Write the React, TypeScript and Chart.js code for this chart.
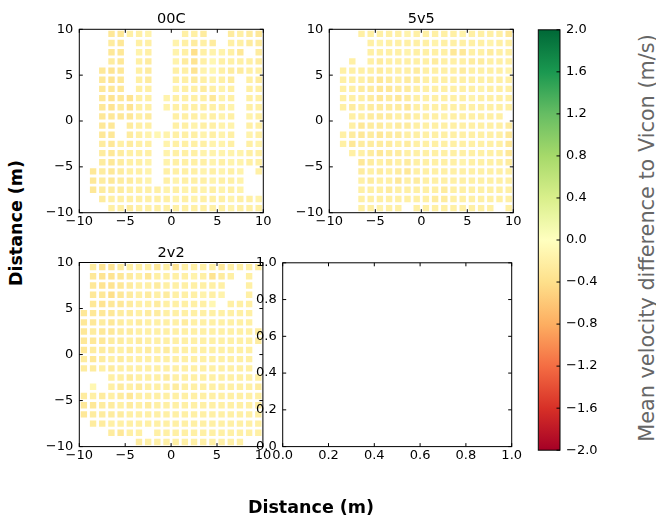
import React, { useEffect, useRef } from 'react';
import { Chart, registerables } from 'chart.js';

Chart.register(...registerables);
Chart.defaults.font.family = "'DejaVu Sans', sans-serif";

const _ = null;

// grid cell edges (m)
const cellEdgesX = [-10, -9, -8, -7, -6, -5, -4, -3, -2, -1, 0, 1, 2, 3, 4, 5, 6, 7, 8, 9, 10];
const cellEdgesY = [10, 9, 8, 7, 6, 5, 4, 3, 2, 1, 0, -1, -2, -3, -4, -5, -6, -7, -8, -9, -10];

const distanceTicks = [-10, -5, 0, 5, 10];
const unitTicks = [0, 0.2, 0.4, 0.6, 0.8, 1.0];
const colorbarTicks = [-2.0, -1.6, -1.2, -0.8, -0.4, 0.0, 0.4, 0.8, 1.2, 1.6, 2.0];
const colorRange = [-2, 2];
const rdYlGn = ['#a50026', '#d73027', '#f46d43', '#fdae61', '#fee08b', '#ffffbf', '#d9ef8b', '#a6d96a', '#66bd63', '#1a9850', '#006837'];

const panelTitles = ['00C', '5v5', '2v2'];
const axisLabel = 'Distance (m)';
const colorbarLabel = 'Mean velocity difference to Vicon (m/s)';

// mean velocity difference per cell (rows top -> bottom, cols left -> right)
const grid00C = [
  [_, _, _, -.3, -.3, -.2, -.2, -.15, _, _, _, -.2, -.2, -.25, _, _, -.25, -.2, -.25, -.3],
  [_, _, _, -.25, -.3, _, -.2, -.2, _, _, -.15, -.2, -.25, -.2, -.25, _, -.2, -.2, -.25, -.25],
  [_, _, _, -.3, -.3, _, -.15, -.2, _, _, -.15, -.2, -.4, -.2, -.15, -.15, -.2, -.3, _, -.25],
  [_, _, _, -.25, -.3, _, -.2, -.25, _, _, -.15, -.25, -.35, -.2, -.1, -.2, -.2, -.2, -.2, -.25],
  [_, _, -.3, -.35, -.3, _, -.2, -.25, _, _, -.2, -.2, -.35, -.15, -.1, -.2, -.25, -.25, -.2, -.2],
  [_, _, -.3, -.35, -.3, _, -.2, -.25, _, _, -.2, -.2, -.25, -.2, -.15, -.2, -.25, _, -.2, -.25],
  [_, _, -.3, -.3, -.3, _, -.2, -.2, _, _, -.15, -.2, -.2, -.25, -.2, -.15, -.2, _, -.2, -.2],
  [_, _, -.3, -.35, -.3, -.35, -.2, -.2, _, -.15, -.2, -.2, -.2, -.2, -.3, -.15, -.2, _, -.2, -.2],
  [_, _, -.3, -.35, -.25, -.35, -.2, -.2, _, -.15, -.2, -.2, -.2, -.2, -.2, -.2, -.15, _, -.2, -.2],
  [_, _, -.3, -.3, -.3, -.3, -.2, -.25, _, _, -.2, -.2, -.2, -.15, -.2, -.15, -.2, _, -.15, -.2],
  [_, _, -.3, -.3, _, -.25, -.2, -.2, _, _, -.2, -.2, -.15, -.2, -.2, -.15, -.15, _, -.2, -.2],
  [_, _, -.3, -.3, _, -.25, -.2, -.15, -.1, -.15, -.2, -.2, -.2, -.15, -.2, -.15, -.2, _, -.15, -.2],
  [_, _, -.25, -.3, -.2, -.25, -.2, -.2, _, -.15, -.2, -.2, -.2, -.2, -.15, -.15, -.2, _, -.2, -.15],
  [_, _, -.25, -.3, -.25, -.2, -.2, -.2, _, -.15, -.2, -.2, -.2, -.15, -.15, -.15, -.15, -.15, -.2, -.2],
  [_, _, -.25, -.3, -.25, -.2, -.2, -.15, _, -.15, -.2, -.2, -.2, -.2, -.15, -.2, -.15, -.15, -.2, -.2],
  [_, -.3, -.25, -.3, -.25, -.2, -.2, -.15, _, -.2, -.2, -.2, -.2, -.15, -.2, -.15, -.2, -.15, _, -.2],
  [_, -.3, -.25, -.3, -.25, -.25, -.2, -.15, _, -.2, -.15, -.2, -.2, -.2, -.15, -.2, -.2, -.15, _, _],
  [_, -.3, -.25, -.25, -.25, -.2, -.2, -.2, -.2, -.15, -.2, -.15, -.2, -.15, -.2, -.15, -.2, -.15, _, _],
  [_, _, -.25, -.2, -.2, -.2, -.2, -.2, -.2, -.2, -.15, -.2, -.15, -.2, -.2, -.2, -.15, -.2, -.2, -.15],
  [_, _, _, -.2, -.2, -.25, -.2, -.2, -.2, -.2, -.2, -.2, -.2, -.2, -.2, -.2, -.15, -.2, -.2, -.2],
];

const grid5v5 = [
  [_, _, _, -.2, -.2, -.2, -.2, -.2, -.15, -.2, -.2, -.2, -.2, -.2, -.15, -.2, -.2, -.2, -.2, -.3],
  [_, _, _, _, -.2, -.15, -.2, -.2, -.2, -.2, -.2, -.15, -.2, -.2, -.2, -.2, -.2, -.15, -.2, -.2],
  [_, _, _, _, -.2, -.2, -.2, -.2, -.15, -.2, -.2, -.2, -.2, -.3, -.3, -.2, -.2, -.25, -.2, -.2],
  [_, _, -.2, _, -.2, -.25, -.2, -.2, -.2, -.2, -.2, -.25, -.2, -.2, -.2, -.25, -.25, -.2, -.2, -.2],
  [_, -.2, -.2, -.2, -.2, -.25, -.2, -.2, -.2, -.25, -.2, -.2, -.2, -.2, -.25, -.2, -.2, -.2, -.2, -.15],
  [_, -.2, -.2, -.2, -.25, -.3, -.25, -.2, -.25, -.25, -.2, -.2, -.2, -.2, -.2, -.2, -.2, -.2, -.2, -.2],
  [_, -.2, -.2, -.25, -.25, -.3, -.3, -.25, -.25, -.2, -.2, -.2, -.2, -.2, -.2, -.2, -.15, -.2, -.2, -.2],
  [_, -.2, -.2, -.2, -.25, -.3, -.25, -.3, -.25, -.2, -.2, -.2, -.2, -.2, -.2, -.15, -.2, -.2, -.2, -.2],
  [_, -.2, -.25, -.2, -.25, -.25, -.25, -.25, -.3, -.2, -.2, -.2, -.2, -.2, -.2, -.2, -.2, -.2, -.2, -.2],
  [_, _, -.2, -.2, -.25, -.25, -.25, -.2, -.25, -.2, -.2, -.2, -.15, -.2, -.2, -.2, -.2, -.2, -.2, _],
  [_, _, -.2, -.3, -.25, -.25, -.2, -.25, -.25, -.2, -.2, -.2, -.2, -.2, -.2, -.2, -.2, -.2, -.2, -.25],
  [_, -.2, -.25, -.3, -.25, -.3, -.25, -.25, -.2, -.2, -.2, -.2, -.2, -.2, -.2, -.2, -.2, -.2, -.2, -.3],
  [_, -.2, -.3, -.25, -.25, -.25, -.25, -.2, -.25, -.2, -.2, -.2, -.2, -.2, -.2, -.2, -.2, -.2, -.2, -.3],
  [_, _, -.2, -.2, -.25, -.3, -.25, -.25, -.2, -.2, -.2, -.2, -.2, -.2, -.2, -.2, -.2, -.2, -.2, -.3],
  [_, _, _, -.3, -.25, -.2, -.25, -.2, -.25, -.2, -.2, -.2, -.2, -.2, -.15, -.2, -.2, -.2, -.2, -.25],
  [_, _, _, -.25, -.2, -.25, -.2, -.25, -.3, -.2, -.2, -.2, -.2, -.2, -.2, -.2, -.2, -.2, -.2, -.2],
  [_, _, _, -.2, -.25, -.2, -.2, -.3, -.2, -.25, -.2, -.2, -.2, -.2, -.2, -.2, -.2, -.2, -.2, -.2],
  [_, _, _, -.2, -.2, -.2, -.25, -.2, -.2, -.2, -.2, -.2, -.25, -.2, -.2, -.2, -.2, -.2, -.2, -.2],
  [_, _, _, -.2, -.2, -.2, -.2, -.2, -.2, -.2, -.2, -.25, -.25, -.2, -.2, -.2, -.2, -.2, -.2, -.2],
  [_, _, _, -.2, -.2, -.15, -.2, -.2, _, -.2, -.2, -.2, -.2, -.2, -.2, -.2, -.2, -.2, _, -.2],
];

const grid2v2 = [
  [_, -.25, -.35, -.35, -.25, -.2, -.2, -.2, -.3, -.2, -.35, -.2, -.2, -.2, -.2, -.3, -.2, -.2, -.2, -.25],
  [_, -.3, -.35, -.35, -.3, -.25, -.2, -.3, -.2, -.2, -.2, -.2, -.15, -.2, -.35, -.25, -.2, _, -.2, _],
  [_, -.3, -.35, -.35, -.3, -.25, -.2, -.2, -.25, -.2, -.2, -.2, -.2, -.2, -.2, -.2, _, _, -.2, _],
  [_, -.3, -.3, -.4, -.3, -.25, -.2, -.25, -.2, -.25, -.2, -.2, -.2, -.15, -.2, -.15, _, _, -.2, _],
  [_, -.3, -.35, -.3, -.3, -.25, -.2, -.2, -.25, -.2, -.2, -.2, -.2, -.2, -.1, _, -.2, -.2, -.2, _],
  [-.3, -.3, -.3, -.3, -.25, -.25, -.2, -.25, -.25, -.2, -.2, -.2, -.2, -.2, -.2, -.2, -.2, -.2, -.2, _],
  [-.3, -.3, -.25, -.3, -.25, -.2, -.25, -.2, -.2, -.2, -.2, -.25, -.2, -.2, -.2, -.2, -.2, -.2, -.2, _],
  [-.3, -.25, -.3, -.3, -.25, -.25, -.2, -.2, -.2, -.2, -.2, -.2, -.2, -.2, -.2, -.2, -.2, -.2, -.2, -.25],
  [-.3, -.3, -.3, -.25, -.25, -.2, -.25, -.2, -.2, -.2, -.2, -.2, -.2, -.2, -.2, -.2, -.2, -.2, -.2, -.25],
  [-.3, -.25, -.25, -.25, -.2, -.25, -.2, -.25, -.2, -.25, -.2, -.2, -.2, -.2, -.2, -.2, -.2, -.2, -.2, _],
  [-.25, -.3, -.25, -.2, -.25, -.2, -.2, -.2, -.2, -.2, -.2, -.2, -.2, -.2, -.2, -.2, -.2, -.2, -.2, _],
  [-.25, -.25, -.2, -.25, -.2, -.2, -.2, -.2, -.2, -.2, -.2, -.2, -.2, -.2, -.2, -.2, -.2, -.2, -.2, _],
  [_, _, _, -.2, -.2, -.25, -.2, -.2, -.2, -.25, -.2, -.2, -.2, -.2, -.2, -.2, -.2, -.2, -.2, -.2],
  [_, -.1, _, -.2, -.25, -.2, -.25, -.2, -.2, -.2, -.25, -.2, -.2, -.2, -.2, -.2, -.2, -.2, -.2, -.25],
  [-.25, -.2, -.25, -.2, -.25, -.3, -.2, -.2, -.2, -.2, -.2, -.2, -.2, -.2, -.2, -.2, -.2, -.2, -.2, -.2],
  [-.3, -.3, -.25, -.25, -.2, -.25, -.2, -.25, -.2, -.2, -.2, -.2, -.2, -.2, -.2, -.2, -.2, -.2, -.2, -.25],
  [-.3, -.25, -.25, -.25, -.25, -.2, -.2, -.2, -.2, -.2, -.2, -.2, -.2, -.2, -.2, -.2, -.2, -.2, -.2, -.2],
  [_, -.25, -.25, -.2, -.2, -.2, -.2, -.2, -.2, -.2, -.2, -.2, -.2, -.2, -.2, -.2, -.2, -.2, -.2, -.2],
  [_, _, _, -.25, -.3, -.2, -.2, _, -.2, -.2, -.2, -.2, -.2, -.2, -.2, -.2, -.2, -.2, -.2, -.2],
  [_, _, _, _, _, _, -.25, -.2, -.2, -.2, -.2, -.2, -.2, -.2, -.2, -.2, -.2, -.2, _, _],
];

// ---------- helpers ----------
const FONT = "'DejaVu Sans', sans-serif";
const TICK_SIZE = 13;
const TITLE_SIZE = 14.5;
const minus = (s: string) => s.replace('-', '\u2212');
const fmtInt = (v: number) => minus(String(v));
const fmt1 = (v: number) => minus((Math.abs(v) < 1e-9 ? 0 : v).toFixed(1));

function hexRgb(h: string) {
  return [parseInt(h.slice(1, 3), 16), parseInt(h.slice(3, 5), 16), parseInt(h.slice(5, 7), 16)];
}
function colormap(v: number) {
  const t = Math.min(1, Math.max(0, (v - colorRange[0]) / (colorRange[1] - colorRange[0])));
  const pos = t * (rdYlGn.length - 1);
  const i = Math.min(rdYlGn.length - 2, Math.floor(pos));
  const f = pos - i;
  const a = hexRgb(rdYlGn[i]);
  const b = hexRgb(rdYlGn[i + 1]);
  const c = a.map((x, k) => Math.round(x + (b[k] - x) * f));
  return `rgb(${c[0]},${c[1]},${c[2]})`;
}

type Rect = { l: number; t: number; w: number; h: number };
type Margin = { l: number; t: number; r: number; b: number };
function canvasBox(p: Rect, m: Margin) {
  const x = Math.floor(p.l - m.l);
  const y = Math.floor(p.t - m.t);
  const w = Math.ceil(p.l + p.w + m.r) - x;
  const h = Math.ceil(p.t + p.h + m.b) - y;
  return { x, y, w, h, left: p.l - x, top: p.t - y, right: x + w - (p.l + p.w), bottom: y + h - (p.t + p.h) };
}

// axes rectangles in the figure (px)
const rect00C: Rect = { l: 79.3, t: 29.3, w: 184, h: 183.4 };
const rect5v5: Rect = { l: 329.3, t: 29.3, w: 184, h: 183.4 };
const rect2v2: Rect = { l: 79.3, t: 262.5, w: 183.6, h: 184.1 };
const rectEmpty: Rect = { l: 282.7, t: 262.8, w: 229, h: 183.8 };
const rectCbar: Rect = { l: 538.3, t: 28.3, w: 21.7, h: 423.4 };

const framePlugin = {
  id: 'frame',
  afterDraw(chart: any, _args: any, opts: any) {
    const { ctx, chartArea: a, scales } = chart;
    const tl = 3.5;
    ctx.save();
    ctx.strokeStyle = '#000';
    ctx.lineWidth = 1;
    ctx.beginPath();
    if (opts.xTicks !== false && scales.x) {
      scales.x.ticks.forEach((t: any) => {
        const px = scales.x.getPixelForValue(t.value);
        ctx.moveTo(px, a.bottom); ctx.lineTo(px, a.bottom - tl);
        ctx.moveTo(px, a.top); ctx.lineTo(px, a.top + tl);
      });
    }
    if (scales.y) {
      scales.y.ticks.forEach((t: any) => {
        const py = scales.y.getPixelForValue(t.value);
        if (opts.leftTicks !== false) { ctx.moveTo(a.left, py); ctx.lineTo(a.left + tl, py); }
        ctx.moveTo(a.right, py); ctx.lineTo(a.right - tl, py);
      });
    }
    ctx.stroke();
    ctx.strokeRect(a.left, a.top, a.right - a.left, a.bottom - a.top);
    if (opts.title) {
      ctx.fillStyle = '#000';
      ctx.font = `${TITLE_SIZE}px ${FONT}`;
      ctx.textAlign = 'center';
      ctx.textBaseline = 'alphabetic';
      ctx.fillText(opts.title, (a.left + a.right) / 2, a.top - 6);
    }
    ctx.restore();
  },
};

function linAxis(id: 'x' | 'y', ticksArr: number[], min: number, max: number, fmt: (v: number) => string, size: number, extra: any = {}) {
  return {
    type: 'linear',
    min,
    max,
    offset: false,
    afterBuildTicks: (s: any) => { s.ticks = ticksArr.map((v) => ({ value: v })); },
    afterFit: (s: any) => { if (id === 'x') s.height = size; else s.width = size; },
    grid: { display: false, drawTicks: false },
    border: { display: false },
    ticks: {
      autoSkip: false,
      maxRotation: 0,
      minRotation: 0,
      padding: id === 'x' ? 1 : 6,
      color: '#000',
      font: { family: FONT, size: TICK_SIZE },
      callback: (v: number) => fmt(v),
    },
    ...extra,
  };
}

function baseOptions(box: any, scales: any, frame: any) {
  return {
    animation: false,
    responsive: false,
    devicePixelRatio: 1,
    events: [],
    layout: { autoPadding: false, padding: { left: 0, top: box.top, right: box.right, bottom: 0 } },
    plugins: { legend: { display: false }, tooltip: { enabled: false }, title: { display: false }, frame },
    scales,
  };
}

function heatConfig(title: string, grid: (number | null)[][], box: any) {
  const points: any[] = [];
  const colors: string[] = [];
  grid.forEach((row, r) => row.forEach((v, c) => {
    if (v === null) return;
    points.push({ x: (cellEdgesX[c] + cellEdgesX[c + 1]) / 2, y: [cellEdgesY[r + 1], cellEdgesY[r]] });
    colors.push(colormap(v));
  }));
  return {
    type: 'bar',
    data: {
      datasets: [{
        data: points,
        backgroundColor: colors,
        borderColor: '#ffffff',
        borderWidth: 1.4,
        borderSkipped: false,
        inflateAmount: 0,
        barPercentage: 1,
        categoryPercentage: 1,
      }],
    },
    options: baseOptions(box, {
      x: linAxis('x', distanceTicks, -10, 10, fmtInt, box.bottom),
      y: linAxis('y', distanceTicks, -10, 10, fmtInt, box.left),
    }, { title }),
    plugins: [framePlugin],
  };
}

function emptyConfig(box: any) {
  return {
    type: 'scatter',
    data: { datasets: [{ data: [] }] },
    options: baseOptions(box, {
      x: linAxis('x', unitTicks, 0, 1, fmt1, box.bottom),
      y: linAxis('y', unitTicks, 0, 1, fmt1, box.left),
    }, {}),
    plugins: [framePlugin],
  };
}

function colorbarConfig(box: any) {
  return {
    type: 'bar',
    data: {
      labels: ['colorbar'],
      datasets: [{
        data: [colorRange],
        backgroundColor: (ctx: any) => {
          const chart = ctx.chart;
          const ys = chart.scales && chart.scales.y;
          if (!ys) return rdYlGn[5];
          const y0 = ys.getPixelForValue(colorRange[0]);
          const y1 = ys.getPixelForValue(colorRange[1]);
          if (!Number.isFinite(y0) || !Number.isFinite(y1) || y0 === y1) return rdYlGn[5];
          const g = chart.ctx.createLinearGradient(0, y0, 0, y1);
          rdYlGn.forEach((c, i) => g.addColorStop(i / (rdYlGn.length - 1), c));
          return g;
        },
        borderWidth: 0,
        inflateAmount: 0,
        barPercentage: 1,
        categoryPercentage: 1,
      }],
    },
    options: {
      animation: false,
      responsive: false,
      devicePixelRatio: 1,
      events: [],
      layout: { autoPadding: false, padding: { left: box.left, top: box.top, right: 0, bottom: box.bottom } },
      plugins: { legend: { display: false }, tooltip: { enabled: false }, frame: { xTicks: false, leftTicks: false } },
      scales: {
        x: { type: 'category', display: false },
        y: linAxis('y', colorbarTicks, colorRange[0], colorRange[1], fmt1, box.right, { position: 'right' }),
      },
    },
    plugins: [framePlugin],
  };
}

function ChartCanvas({ box, make }: { box: any; make: () => any }) {
  const ref = useRef<HTMLCanvasElement | null>(null);
  useEffect(() => {
    let chart: any = null;
    try {
      chart = new Chart(ref.current as HTMLCanvasElement, make());
    } catch (e) {
      console.error(e);
    }
    return () => { if (chart) chart.destroy(); };
  }, []);
  return (
    <canvas
      ref={ref}
      width={box.w}
      height={box.h}
      style={{ position: 'absolute', left: box.x, top: box.y, width: box.w, height: box.h }}
    />
  );
}

const heatMargin: Margin = { l: 50, t: 28, r: 12, b: 28 };
const box00C = canvasBox(rect00C, heatMargin);
const box5v5 = canvasBox(rect5v5, heatMargin);
const box2v2 = canvasBox(rect2v2, heatMargin);
const boxEmpty = canvasBox(rectEmpty, { l: 40, t: 20, r: 12, b: 28 });
const boxCbar = canvasBox(rectCbar, { l: 8, t: 12, r: 50, b: 12 });

export default function App() {
  return (
    <div style={{ position: 'fixed', left: 0, top: 0, width: 656, height: 521, background: '#ffffff', overflow: 'hidden' }}>
      <ChartCanvas box={box00C} make={() => heatConfig(panelTitles[0], grid00C, box00C)} />
      <ChartCanvas box={box5v5} make={() => heatConfig(panelTitles[1], grid5v5, box5v5)} />
      <ChartCanvas box={box2v2} make={() => heatConfig(panelTitles[2], grid2v2, box2v2)} />
      <ChartCanvas box={boxEmpty} make={() => emptyConfig(boxEmpty)} />
      <ChartCanvas box={boxCbar} make={() => colorbarConfig(boxCbar)} />
      <div
        style={{
          position: 'absolute', left: 16.3, top: 223.3, transform: 'translate(-50%, -50%) rotate(-90deg)',
          whiteSpace: 'nowrap', font: "bold 17.5px 'DejaVu Sans', sans-serif", lineHeight: '18px', color: '#000',
        }}
      >{axisLabel}</div>
      <div
        style={{
          position: 'absolute', left: 311, top: 507.3, transform: 'translate(-50%, -50%)',
          whiteSpace: 'nowrap', font: "bold 17.5px 'DejaVu Sans', sans-serif", lineHeight: '18px', color: '#000',
        }}
      >{axisLabel}</div>
      <div
        style={{
          position: 'absolute', left: 646.9, top: 237.5, transform: 'translate(-50%, -50%) rotate(-90deg)',
          whiteSpace: 'nowrap', font: "20.8px 'DejaVu Sans', sans-serif", lineHeight: '20.8px', color: '#666666',
        }}
      >{colorbarLabel}</div>
    </div>
  );
}
